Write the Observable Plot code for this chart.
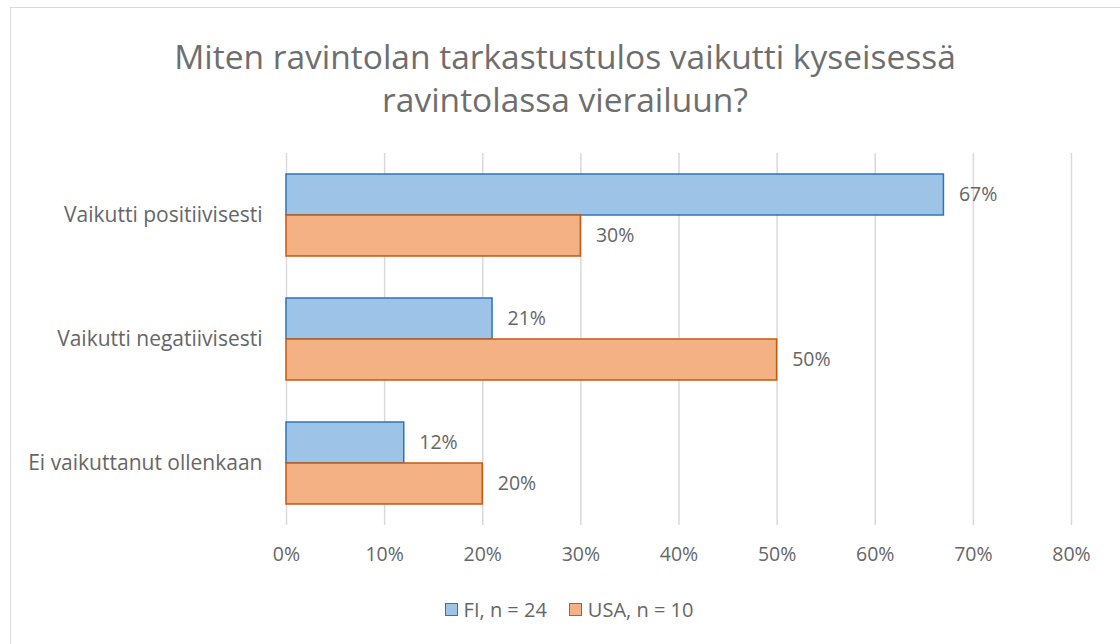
<!DOCTYPE html>
<html>
<head>
<meta charset="utf-8">
<script src="https://cdn.jsdelivr.net/npm/d3@7"></script>
<script src="https://cdn.jsdelivr.net/npm/@observablehq/plot@0.6"></script>
<style>
  html, body { margin: 0; padding: 0; background: #fff; }
  body { width: 1120px; height: 644px; position: relative; overflow: hidden; font-family: "Open Sans", sans-serif; }
  #frame { position: absolute; left: 10px; top: 7px; width: 1130px; height: 660px; border: 1.5px solid #D9D9D9; box-sizing: border-box; }
  #title { position: absolute; left: 10px; width: 1110px; top: 35px; text-align: center; color: #6E6E6E; font-size: 33.5px; line-height: 43px; }
  #chart { position: absolute; left: 0; top: 0; }
  #legend { position: absolute; left: 14px; width: 1110px; top: 595px; text-align: center; color: #666; font-size: 20px; }
  .li { display: inline-flex; align-items: center; margin: 0 11px; }
  .sw { display: inline-block; width: 13px; height: 13px; margin-right: 6px; border: 1.5px solid; box-sizing: border-box; }
</style>
</head>
<body>
<div id="frame"></div>
<div id="title">Miten ravintolan tarkastustulos vaikutti kyseisessä<br>ravintolassa vierailuun?</div>
<div id="chart"></div>
<div id="legend"></div>
<script>
const categories = ["Vaikutti positiivisesti", "Vaikutti negatiivisesti", "Ei vaikuttanut ollenkaan"];
const seriesNames = ["FI", "USA"];
const seriesLabels = ["FI, n = 24", "USA, n = 10"];
const fiValues = [0.67, 0.21, 0.12];
const usaValues = [0.30, 0.50, 0.20];
const xTicks = [0, 0.1, 0.2, 0.3, 0.4, 0.5, 0.6, 0.7, 0.8];
const fills = ["#9DC3E6", "#F4B183"];
const strokes = ["#2E75B6", "#C55A11"];

const data = [];
categories.forEach((c, i) => {
  data.push({category: c, series: seriesNames[0], value: fiValues[i]});
  data.push({category: c, series: seriesNames[1], value: usaValues[i]});
});

const chart = Plot.plot({
  width: 1120,
  height: 600,
  marginTop: 152,
  marginBottom: 74,
  marginLeft: 286,
  marginRight: 49,
  style: { fontFamily: "Open Sans, sans-serif", color: "#666", background: "transparent", fontSize: "20px" },
  x: { domain: [0, 0.8] },
  y: { domain: seriesNames, paddingInner: 0, paddingOuter: 0.5, axis: null },
  fy: { domain: categories, padding: 0, label: null },
  color: { domain: seriesNames, range: fills },
  marks: [
    Plot.ruleX(xTicks, { stroke: "#D9D9D9", strokeWidth: 1.5 }),
    Plot.barX(data, {
      x: "value", y: "series", fy: "category",
      fill: "series",
      stroke: d => strokes[seriesNames.indexOf(d.series)],
      strokeWidth: 1.5, inset: 0
    }),
    Plot.text(data, {
      x: "value", y: "series", fy: "category",
      text: d => Math.round(d.value * 100) + "%",
      textAnchor: "start", dx: 15, fill: "#666", fontSize: 19.5
    }),
    Plot.axisX({ ticks: xTicks, tickFormat: d => Math.round(d * 100) + "%", tickSize: 0, tickPadding: 22, fontSize: 19.5, label: null, anchor: "bottom", facetAnchor: "bottom" }),
    Plot.axisFy({ anchor: "left", tickSize: 0, tickPadding: 24, fontSize: 21, label: null })
  ]
});
document.getElementById("chart").appendChild(chart);

const legend = document.getElementById("legend");
seriesLabels.forEach((lab, i) => {
  const item = document.createElement("span");
  item.className = "li";
  const sw = document.createElement("span");
  sw.className = "sw";
  sw.style.background = fills[i];
  sw.style.borderColor = strokes[i];
  item.appendChild(sw);
  item.appendChild(document.createTextNode(lab));
  legend.appendChild(item);
});
</script>
</body>
</html>
